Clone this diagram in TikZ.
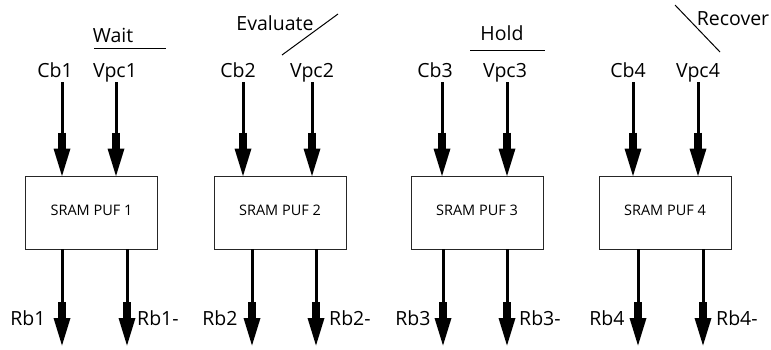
\documentclass[tikz,border=0pt]{standalone}
\usepackage{fontspec}
\setmainfont{Open Sans}
\usetikzlibrary{calc}
\newcommand\pufarrow[2]{%
  \draw[line width=3pt] (#1) -- ($(#2)+(0,-30)$);
  \draw[line width=7.5pt] ($(#2)+(0,-43)$) -- ($(#2)+(0,-25)$);
  \fill ($(#2)+(0,0.5)$) -- ($(#2)+(-8.5,-27)$) -- ($(#2)+(8.5,-27)$) -- cycle;}
\begin{document}
\begin{tikzpicture}[x=1pt,y=-1pt,
  lbl/.style={font=\fontsize{19.5}{22}\selectfont, inner sep=0pt, anchor=base},
  puf/.style={draw=black!85, line width=0.9pt, font=\fontsize{14.5}{16}\selectfont,
    minimum width=132pt, minimum height=73pt, inner sep=0pt},
  note/.style={line width=1pt}]
\useasboundingbox (0,0) rectangle (771,349);
\foreach \i/\bx/\ca/\cv/\oa/\ob/\lcb/\lvp/\lra/\lrb in
  {1/91.5/62/116/62/127/55/115/28/137,
   2/280/243/312/252/316/238/312/220/329,
   3/477/442/507/443/507/435/505/413/519,
   4/665/633/698/638/703/628/698/607/716}{
  \node[puf] (box\i) at (\bx,212.5) {\raisebox{5pt}{SRAM PUF \i}};
  \node[lbl] (cb\i) at (\lcb,77) {Cb\i};
  \node[lbl] (vpc\i) at (\lvp,77) {Vpc\i};
  \coordinate (ci\i) at (\ca,82);
  \coordinate (vi\i) at (\cv,82);
  \coordinate (cie\i) at (\ca,0 |- box\i.north);
  \coordinate (vie\i) at (\cv,0 |- box\i.north);
  \pufarrow{ci\i}{cie\i}
  \pufarrow{vi\i}{vie\i}
  \node[lbl] (rb\i) at (\lra,325) {Rb\i};
  \node[lbl, anchor=base west] (rbn\i) at (\lrb,325) {Rb\i-};
  \coordinate (os\i) at (\oa,0 |- box\i.south);
  \coordinate (ns\i) at (\ob,0 |- box\i.south);
  \coordinate (oe\i) at (\oa,345);
  \coordinate (ne\i) at (\ob,345);
  \pufarrow{os\i}{oe\i}
  \pufarrow{ns\i}{ne\i}
}
\node[lbl] (wait) at (113,42) {Wait};
\draw[note] (94,48) -- (166,48);
\node[lbl] (eval) at (275,30) {Evaluate};
\draw[note] (282,55) -- (338,14);
\node[lbl] (hold) at (502,40) {Hold};
\draw[note] (470,50) -- (545,50);
\node[lbl] (recov) at (733,25) {Recover};
\draw[note] (675,5) -- (720,52);
\end{tikzpicture}
\end{document}
